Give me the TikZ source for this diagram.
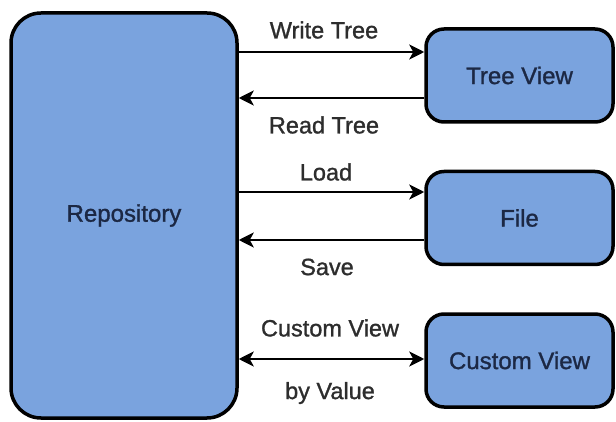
\documentclass[tikz,border=0pt]{standalone}
\usepackage{fontspec}
\setmainfont{Liberation Sans}[FakeBold=1.2]
\usetikzlibrary{arrows.meta}
\definecolor{boxfill}{RGB}{122,163,222}
\definecolor{boxtext}{RGB}{28,40,68}
\definecolor{labeltext}{RGB}{45,45,45}
\tikzset{
  x=1pt, y=-1pt,
  box/.style={draw=black, line width=3.5pt, fill=boxfill, rounded corners=18pt,
    minimum width=187pt, minimum height=93pt, inner sep=0pt,
    text=boxtext, font=\fontsize{24}{28}\selectfont},
  bigbox/.style={box, rounded corners=30pt, minimum width=226pt, minimum height=405pt},
  lbl/.style={text=labeltext, font=\fontsize{23.5}{27}\selectfont, inner sep=0pt},
  arr/.style={line width=2.6pt, -{Stealth[length=15pt,width=15pt,inset=4pt]}},
  darr/.style={line width=2.6pt, {Stealth[length=15pt,width=15pt,inset=4pt]}-{Stealth[length=15pt,width=15pt,inset=4pt]}}
}
\begin{document}
\begin{tikzpicture}
\useasboundingbox (0,0) rectangle (616,422);
\node[bigbox] (repo) at (124,215.5) {Repository};
\node[box] (tree) at (519.5,75.5) {Tree View};
\node[box] (file) at (519.5,218) {File};
\node[box] (custom) at (519.5,360.5) {Custom View};

\draw[arr] ([yshift=23.5pt]tree.west -| repo.east) -- ([yshift=23.5pt]tree.west);
\draw[arr] ([yshift=-22.5pt]tree.west) -- ([yshift=-22.5pt]tree.west -| repo.east);
\draw[arr] ([yshift=26pt]file.west -| repo.east) -- ([yshift=26pt]file.west);
\draw[arr] ([yshift=-22pt]file.west) -- ([yshift=-22pt]file.west -| repo.east);
\draw[darr] ([yshift=1.5pt]custom.west -| repo.east) -- ([yshift=1.5pt]custom.west);

\node[lbl] (l1) at (324,30) {Write Tree};
\node[lbl] (l2) at (324,125) {Read Tree};
\node[lbl] (l3) at (326,172) {Load};
\node[lbl] (l4) at (327,267) {Save};
\node[lbl] (l5) at (330,328) {Custom View};
\node[lbl] (l6) at (330,393) {by Value};
\end{tikzpicture}
\end{document}
